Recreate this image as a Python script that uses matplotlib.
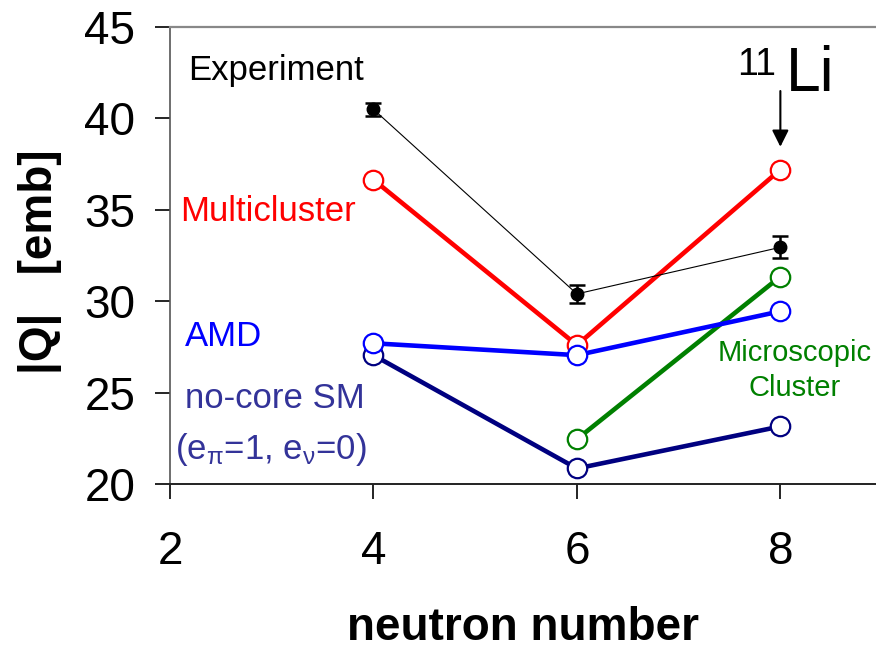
import matplotlib
matplotlib.use("Agg")
import matplotlib.pyplot as plt

plt.rcParams['font.family'] = ['Liberation Sans', 'DejaVu Sans']
plt.rcParams['mathtext.fontset'] = 'custom'
plt.rcParams['mathtext.rm'] = 'Liberation Sans'
plt.rcParams['mathtext.it'] = 'Liberation Sans:italic'

# neutron numbers of the Li isotopes
neutrons = [4, 6, 8]
xticks = [2, 4, 6, 8]
yticks = [20, 25, 30, 35, 40, 45]

# |Q| in emb
experiment = [40.5, 30.4, 32.95]
experiment_err = [0.35, 0.5, 0.6]
multicluster = [36.65, 27.6, 37.2]
amd = [27.7, 27.05, 29.45]
ncsm = [27.05, 20.85, 23.15]
micro_neutrons = [6, 8]
micro_cluster = [22.45, 31.35]

fig = plt.figure(figsize=(8.76, 6.58), dpi=100)
ax = fig.add_axes([0.194, 0.2644, 0.806, 0.6945])

open_kw = dict(marker='o', markersize=14, markerfacecolor='white',
               markeredgewidth=1.6, linewidth=3.3, solid_capstyle='round')

ax.plot(neutrons, ncsm, color='#000080', zorder=3, **open_kw)
ax.plot(micro_neutrons, micro_cluster, color='#008000', zorder=4, **open_kw)
ax.plot(neutrons, multicluster, color='#ff0000', zorder=5, **open_kw)
ax.plot(neutrons, amd, color='#0000ff', zorder=6, **open_kw)

ax.errorbar(neutrons, experiment, yerr=experiment_err, color='black',
            linewidth=0.8, marker='o', markersize=9, elinewidth=1.8,
            capsize=6, capthick=1.8, zorder=7)

ax.set_xlim(2, 8.94)
ax.set_ylim(20, 45)
ax.set_xticks(xticks)
ax.set_yticks(yticks)
ax.tick_params(direction='out', length=11, width=1.2, labelsize=33,
               pad=14, colors='black')
ax.tick_params(axis='x', pad=22)

ax.spines['right'].set_visible(False)
ax.spines['top'].set_color('#888888')
ax.spines['top'].set_linewidth(1.6)
ax.spines['left'].set_color('#555555')
ax.spines['left'].set_linewidth(1.2)
ax.spines['bottom'].set_color('#222222')
ax.spines['bottom'].set_linewidth(1.4)

fig.text(0.597, 0.046, 'neutron number', fontsize=33, fontweight='bold',
         ha='center', va='center')
fig.text(0.046, 0.602, '|Q|   [emb]', fontsize=33, fontweight='bold',
         ha='center', va='center', rotation=90)

ax.text(2.18, 42.6, 'Experiment', fontsize=25, color='black', va='center')
ax.text(2.1, 34.9, 'Multicluster', fontsize=25, color='#ff0000', va='center')
ax.text(2.15, 28.06, 'AMD', fontsize=25, color='#0000ff', va='center')
ax.text(2.15, 24.7, 'no-core SM', fontsize=25, color='#333399', va='center')
ax.text(2.05, 21.9, r'(e$_{\mathrm{π}}$=1, e$_{\mathrm{ν}}$=0)', fontsize=25,
        color='#333399', va='center')
ax.text(8.14, 26.2, 'Microscopic\nCluster', fontsize=21, color='#008000',
        ha='center', va='center', linespacing=1.3)

ax.text(7.575, 42.4, '11', fontsize=27, ha='left', va='baseline')
ax.text(8.05, 41.5, 'Li', fontsize=45, ha='left', va='baseline')
ax.annotate('', xy=(8, 38.45), xytext=(8, 41.5),
            arrowprops=dict(arrowstyle='-|>', color='black', lw=1.5,
                            mutation_scale=25, shrinkA=0, shrinkB=0))

fig.savefig('out.png', dpi=100)
